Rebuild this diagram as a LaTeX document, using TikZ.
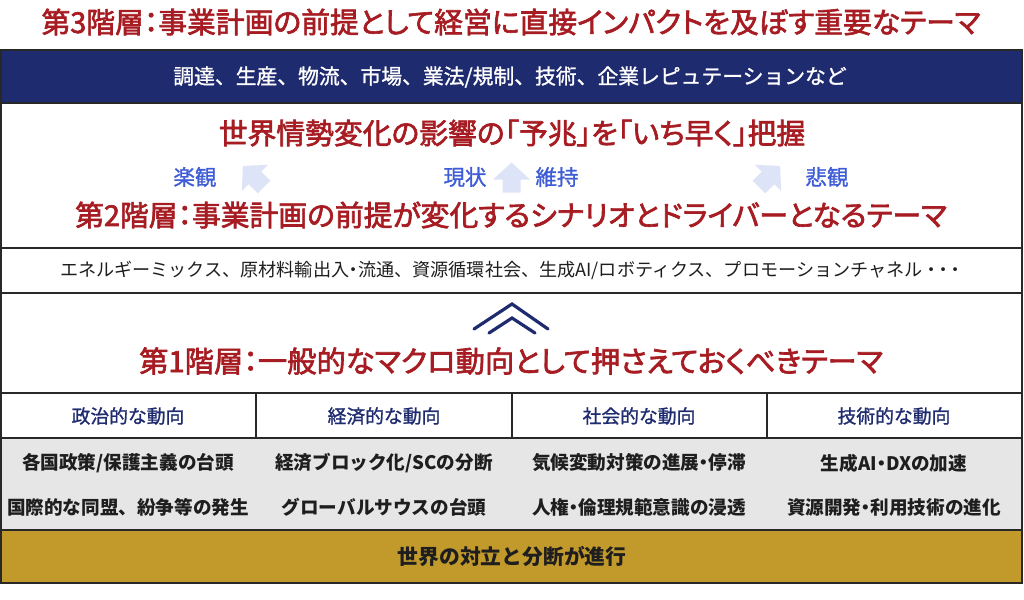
\documentclass[tikz,border=0pt]{standalone}
\usepackage{fontspec}
\setmainfont{Noto Sans CJK JP}
\newfontfamily\pfont{Noto Sans CJK JP}[RawFeature=+palt, FakeBold=2.2]
\newfontfamily\pdot{Noto Sans CJK JP}[RawFeature=+palt]
\newfontfamily\medfont{Noto Sans CJK JP}[FakeBold=1.2]
\newcommand{\nd}{{\pdot ・}}
\definecolor{navyc}{RGB}{31,43,111}
\definecolor{redc}{RGB}{166,28,34}
\definecolor{bluec}{RGB}{62,92,214}
\definecolor{arrowc}{RGB}{222,228,248}
\definecolor{grayc}{RGB}{230,230,230}
\definecolor{goldc}{RGB}{194,154,44}
\definecolor{linec}{RGB}{40,40,40}
\definecolor{textc}{RGB}{30,30,30}
\begin{document}
\begin{tikzpicture}[x=1pt,y=-1pt,
  ttl/.style={font=\pfont\fontsize{28.8}{30}\selectfont, text=redc, inner sep=0pt},
  navytxt/.style={font=\medfont\fontsize{20.8}{22}\selectfont, text=white, inner sep=0pt},
  lbl/.style={font=\medfont\fontsize{21.5}{23}\selectfont, text=bluec, inner sep=0pt},
  band/.style={font=\fontsize{18.1}{20}\selectfont, text=textc, inner sep=0pt},
  hdr/.style={font=\medfont\fontsize{18.8}{20}\selectfont, text=navyc, inner sep=0pt},
  item/.style={font=\bfseries\fontsize{18.6}{20}\selectfont, text=textc, inner sep=0pt},
  goldtxt/.style={font=\bfseries\fontsize{20.8}{22}\selectfont, text=textc, inner sep=0pt},
  frame/.style={draw=linec, line width=1.4pt},
  chev/.style={draw=navyc, line width=3.2pt, line cap=round, line join=miter},
  bigarrow/.style={fill=arrowc}
]
\useasboundingbox (0,0) rectangle (1024,599);
% fills
\fill[navyc] (1,50) rectangle (1022,103);
\fill[grayc] (1,438) rectangle (1022,530);
\fill[goldc] (1,530) rectangle (1022,583);
% frame lines
\draw[frame] (1,50) rectangle (1022,583);
\foreach \yy in {103,248,293,393,438,530} \draw[frame] (1,\yy) -- (1022,\yy);
\foreach \xx in {256,512,767} \draw[frame] (\xx,393) -- (\xx,438);

% titles
\node[ttl] (t3) at (511,22) {第3階層：事業計画の前提として経営に直接インパクトを及ぼす重要なテーマ};
\node[navytxt] (nav) at (510,77) {調達、生産、物流、市場、業法/規制、技術、企業レピュテーションなど};
\node[ttl] (yochou) at (512,133) {世界情勢変化の影響の「予兆」を「いち早く」把握};
\node[lbl] (rakkan) at (195,177) {楽観};
\node[lbl] (genjo) at (465,177) {現状};
\node[lbl] (iji) at (557,177) {維持};
\node[lbl] (hikan) at (827,177) {悲観};
\node[ttl] (t2) at (511,215) {第2階層：事業計画の前提が変化するシナリオとドライバーとなるテーマ};
\node[band] (drv) at (510,270) {エネルギーミックス、原材料輸出入\nd 流通、資源循環社会、生成AI/ロボティクス、プロモーションチャネル \nd\,\nd\,\nd};
\node[ttl, font=\pfont\fontsize{29.3}{31}\selectfont] (t1) at (511,361) {第1階層：一般的なマクロ動向として押さえておくべきテーマ};

% arrows
\begin{scope}[shift={(253.5,176.5)}, rotate=45]
  \fill[bigarrow] (0,-15) -- (18.5,2) -- (9,2) -- (9,15) -- (-9,15) -- (-9,2) -- (-18.5,2) -- cycle;
\end{scope}
\begin{scope}[shift={(511.5,177.5)}]
  \fill[bigarrow] (0,-15) -- (18.5,2) -- (9,2) -- (9,15) -- (-9,15) -- (-9,2) -- (-18.5,2) -- cycle;
\end{scope}
\begin{scope}[shift={(769.5,176.5)}, rotate=-45]
  \fill[bigarrow] (0,-15) -- (18.5,2) -- (9,2) -- (9,15) -- (-9,15) -- (-9,2) -- (-18.5,2) -- cycle;
\end{scope}

% chevrons
\coordinate (c1l) at (474,329);
\coordinate (c1t) at (512,304);
\coordinate (c1r) at (548,329);
\coordinate (c2l) at (489,333);
\coordinate (c2t) at (512,318);
\coordinate (c2r) at (535,333);
\draw[chev] (c1l) -- (c1t) -- (c1r);
\draw[chev] (c2l) -- (c2t) -- (c2r);

% header row
\node[hdr] (h1) at (128,416) {政治的な動向};
\node[hdr] (h2) at (384,416) {経済的な動向};
\node[hdr] (h3) at (639,416) {社会的な動向};
\node[hdr] (h4) at (894,416) {技術的な動向};

% items
\node[item] (a1) at (128,463) {各国政策/保護主義の台頭};
\node[item] (a2) at (128,507) {国際的な同盟、紛争等の発生};
\node[item] (b1) at (384,463) {経済ブロック化/SCの分断};
\node[item] (b2) at (384,507) {グローバルサウスの台頭};
\node[item] (c1) at (639,463) {気候変動対策の進展\nd 停滞};
\node[item] (c2) at (639,507) {人権\nd 倫理規範意識の浸透};
\node[item] (d1) at (894,463) {生成AI\nd DXの加速};
\node[item] (d2) at (894,507) {資源開発\nd 利用技術の進化};

\node[goldtxt] (gold) at (512,556) {世界の対立と分断が進行};
\end{tikzpicture}
\end{document}
